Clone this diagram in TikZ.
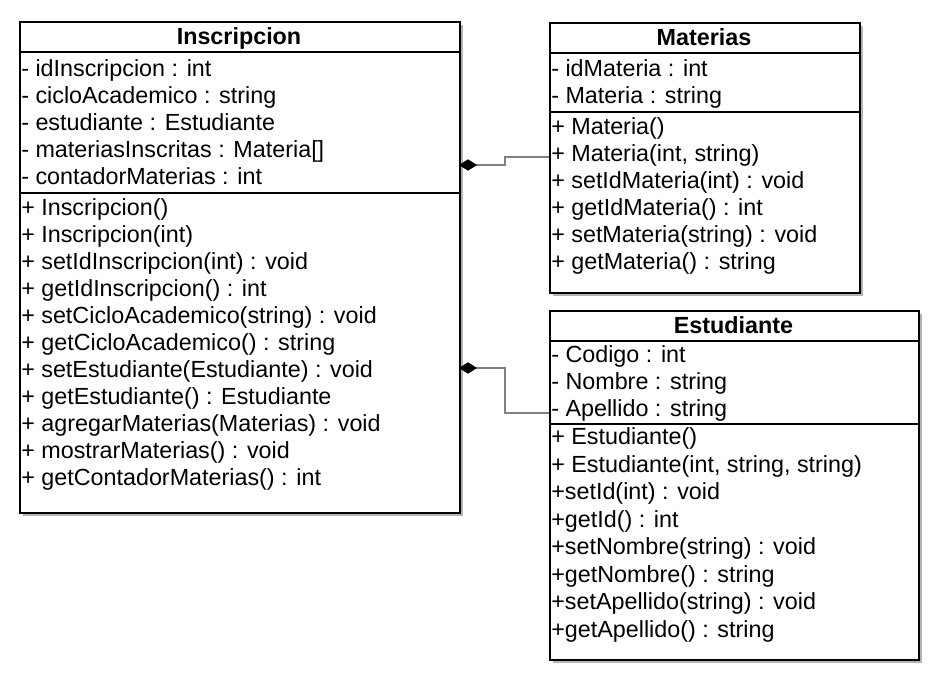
\documentclass[tikz,border=0pt]{standalone}
\usepackage{fontspec}
\setmainfont{Liberation Sans}
\usetikzlibrary{arrows.meta}

\begin{document}
\begin{tikzpicture}[x=0.75pt, y=-0.75pt, font=\fontsize{17.5}{20}\selectfont,
    classbox/.style={draw=black, fill=white, line width=1.5pt, anchor=north west, inner sep=0pt},
    shadowbox/.style={fill=black!30, draw=none, anchor=north west, inner sep=0pt},
    title/.style={font=\fontsize{17.5}{20}\selectfont\bfseries, inner sep=0pt, text height=12.5pt, text depth=4pt, yshift=-1.2pt},
    member/.style={anchor=west, inner sep=0pt, text height=12.5pt, text depth=4pt, yshift=-1.5pt},
    link/.style={draw=black!50, line width=1.1pt, -{Diamond[length=13.5pt, width=8.5pt, color=black]}}]
    \useasboundingbox (0,0) rectangle (942,680);

    % class boxes with shadows
    \node[shadowbox, minimum width=330pt, minimum height=368.25pt] (inscripcionShadow) at (23,25) {};
    \node[classbox, minimum width=330pt, minimum height=368.25pt] (inscripcion) at (19,21) {};
    \node[shadowbox, minimum width=232.5pt, minimum height=202.5pt] (materiasShadow) at (553,26) {};
    \node[classbox, minimum width=232.5pt, minimum height=202.5pt] (materias) at (549,22) {};
    \node[shadowbox, minimum width=276.75pt, minimum height=261.75pt] (estudianteShadow) at (553,314) {};
    \node[classbox, minimum width=276.75pt, minimum height=261.75pt] (estudiante) at (549,310) {};

    % compartments
    \draw[line width=1.5pt] (19,52) -- (459,52);
    \draw[line width=1.5pt] (19,193) -- (459,193);
    \draw[line width=1.5pt] (549,53) -- (859,53);
    \draw[line width=1.5pt] (549,112) -- (859,112);
    \draw[line width=1.5pt] (549,341) -- (918,341);
    \draw[line width=1.5pt] (549,424) -- (918,424);

    % Inscripcion
    \node[title] (insTitle) at (239,37) {Inscripcion};
    \node[member] (insA1) at (21,69) {- idInscripcion : int};
    \node[member] (insA2) at (21,96) {- cicloAcademico : string};
    \node[member] (insA3) at (21,123) {- estudiante : Estudiante};
    \node[member] (insA4) at (21,150) {- materiasInscritas : Materia[]};
    \node[member] (insA5) at (21,177) {- contadorMaterias : int};
    \node[member] (insM1) at (21,208) {+ Inscripcion()};
    \node[member] (insM2) at (21,235) {+ Inscripcion(int)};
    \node[member] (insM3) at (21,262) {+ setIdInscripcion(int) : void};
    \node[member] (insM4) at (21,289) {+ getIdInscripcion() : int};
    \node[member] (insM5) at (21,316) {+ setCicloAcademico(string) : void};
    \node[member] (insM6) at (21,343) {+ getCicloAcademico() : string};
    \node[member] (insM7) at (21,370) {+ setEstudiante(Estudiante) : void};
    \node[member] (insM8) at (21,397) {+ getEstudiante() : Estudiante};
    \node[member] (insM9) at (21,424) {+ agregarMaterias(Materias) : void};
    \node[member] (insM10) at (21,451) {+ mostrarMaterias() : void};
    \node[member] (insM11) at (21,478) {+ getContadorMaterias() : int};

    % Materias
    \node[title] (matTitle) at (704,38) {Materias};
    \node[member] (matA1) at (551,69) {- idMateria : int};
    \node[member] (matA2) at (551,96) {- Materia : string};
    \node[member] (matM1) at (551,127) {+ Materia()};
    \node[member] (matM2) at (551,154) {+ Materia(int, string)};
    \node[member] (matM3) at (551,181) {+ setIdMateria(int) : void};
    \node[member] (matM4) at (551,208) {+ getIdMateria() : int};
    \node[member] (matM5) at (551,235) {+ setMateria(string) : void};
    \node[member] (matM6) at (551,262) {+ getMateria() : string};

    % Estudiante
    \node[title] (estTitle) at (733.5,326) {Estudiante};
    \node[member] (estA1) at (551,355) {- Codigo : int};
    \node[member] (estA2) at (551,382) {- Nombre : string};
    \node[member] (estA3) at (551,409) {- Apellido : string};
    \node[member] (estM1) at (551,437) {+ Estudiante()};
    \node[member] (estM2) at (551,464.5) {+ Estudiante(int, string, string)};
    \node[member] (estM3) at (551,492) {+setId(int) : void};
    \node[member] (estM4) at (551,519.5) {+getId() : int};
    \node[member] (estM5) at (551,547) {+setNombre(string) : void};
    \node[member] (estM6) at (551,574.5) {+getNombre() : string};
    \node[member] (estM7) at (551,602) {+setApellido(string) : void};
    \node[member] (estM8) at (551,629.5) {+getApellido() : string};

    % compositions
    \coordinate (insR1) at (459,165);
    \coordinate (insR2) at (459,368);
    \coordinate (matL) at (549,157);
    \coordinate (estL) at (549,413);
    \draw[link] (matL) -- ++(-44,0) |- (insR1);
    \draw[link] (estL) -- ++(-44,0) |- (insR2);
\end{tikzpicture}
\end{document}
